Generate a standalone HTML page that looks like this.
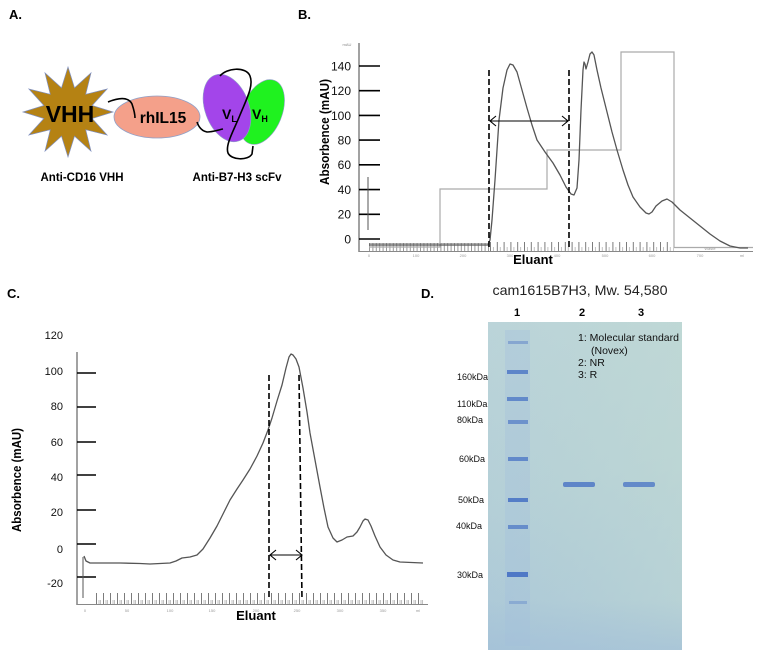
<!DOCTYPE html>
<html><head><meta charset="utf-8"><style>
html,body{margin:0;padding:0;background:#fff;}
svg{display:block;}
text{font-family:"Liberation Sans",sans-serif;}
</style></head><body>
<svg width="763" height="657" viewBox="0 0 763 657" xmlns="http://www.w3.org/2000/svg">
<defs>
<pattern id="pb1" x="369" y="243" width="3.4" height="9" patternUnits="userSpaceOnUse">
<line x1="0.5" y1="0" x2="0.5" y2="9" stroke="#555" stroke-width="0.6"/>
</pattern>
<pattern id="pb2" x="490" y="242" width="6.8" height="9" patternUnits="userSpaceOnUse">
<line x1="0.5" y1="0" x2="0.5" y2="9" stroke="#444" stroke-width="0.7"/>
<line x1="3.5" y1="5" x2="3.5" y2="9" stroke="#999" stroke-width="0.6"/>
</pattern>
<pattern id="pc" x="96" y="593" width="7" height="11" patternUnits="userSpaceOnUse">
<line x1="0.5" y1="0" x2="0.5" y2="11" stroke="#444" stroke-width="0.7"/>
<line x1="3" y1="7" x2="3" y2="11" stroke="#999" stroke-width="0.6"/>
<line x1="4.5" y1="7" x2="4.5" y2="11" stroke="#999" stroke-width="0.6"/>
</pattern>
<linearGradient id="gel" x1="0" y1="0" x2="0.2" y2="1">
<stop offset="0" stop-color="#bbd4d9"/>
<stop offset="0.55" stop-color="#b4cfd7"/>
<stop offset="1" stop-color="#a9c6d8"/>
</linearGradient>
<linearGradient id="gelr" x1="0" y1="0" x2="1" y2="0">
<stop offset="0" stop-color="#c4dcd3" stop-opacity="0"/>
<stop offset="1" stop-color="#c4dcd3" stop-opacity="0.55"/>
</linearGradient>
<linearGradient id="gelb" x1="0" y1="0" x2="0" y2="1">
<stop offset="0" stop-color="#a4c1d8" stop-opacity="0"/>
<stop offset="1" stop-color="#a4c1d8" stop-opacity="0.7"/>
</linearGradient>
</defs>

<!-- Panel A -->
<text x="9" y="19" font-size="13" font-weight="bold">A.</text>
<polygon points="68,67 74.5,87.9 91,72.9 85.7,94.3 107.1,89 92.1,105.5 113,112 92.1,118.5 107.1,135 85.7,129.7 91,151.1 74.5,136.1 68,157 61.5,136.1 45,151.1 50.3,129.7 28.9,135 43.9,118.5 23,112 43.9,105.5 28.9,89 50.3,94.3 45,72.9 61.5,87.9" fill="#b58213" stroke="#7f8fbf" stroke-width="0.7"/>
<text x="70" y="122" font-size="23" font-weight="bold" text-anchor="middle">VHH</text>
<ellipse cx="157" cy="117" rx="43" ry="21" fill="#f4a08a" stroke="#8fa0c8" stroke-width="0.8"/>
<path d="M 108,102 C 118,98 128,96 132,104 C 134,110 135,114 135,118" fill="none" stroke="#000" stroke-width="1.6"/>
<text x="163" y="123" font-size="15.5" font-weight="bold" text-anchor="middle">rhIL15</text>
<ellipse cx="262" cy="112" rx="20" ry="34" transform="rotate(22 262 112)" fill="#1ff21f" stroke="#8fa0c8" stroke-width="0.6"/>
<ellipse cx="227" cy="108" rx="22" ry="35" transform="rotate(-20 227 108)" fill="#a345ea" stroke="#8fa0c8" stroke-width="0.6"/>
<path d="M 197,122 C 199,128 202,131 207,132 C 212,132 218,130 223,129" fill="none" stroke="#000" stroke-width="1.6"/>
<path d="M 220,76 C 226,68 246,66 250,76 C 254,86 246,100 240,115 C 234,130 225,145 228,153 C 231,160 248,161 252,154 L 253,146" fill="none" stroke="#000" stroke-width="1.6"/>
<text x="222" y="119" font-size="14" font-weight="bold">V<tspan font-size="9" dy="3">L</tspan></text>
<text x="252" y="119" font-size="14" font-weight="bold">V<tspan font-size="9" dy="3">H</tspan></text>
<text x="82" y="181" font-size="11.5" font-weight="bold" text-anchor="middle" textLength="83" lengthAdjust="spacingAndGlyphs">Anti-CD16 VHH</text>
<text x="237" y="181" font-size="11.5" font-weight="bold" text-anchor="middle" textLength="89" lengthAdjust="spacingAndGlyphs">Anti-B7-H3 scFv</text>

<!-- Panel B -->
<text x="298" y="19" font-size="13" font-weight="bold">B.</text>
<text x="347" y="46" font-size="4" fill="#888" text-anchor="middle">mAU</text>
<line x1="359" y1="43" x2="359" y2="252" stroke="#444" stroke-width="1"/>
<line x1="359" y1="251.5" x2="753" y2="251.5" stroke="#888" stroke-width="1"/>
<g stroke="#000" stroke-width="1.6">
<line x1="359" y1="66" x2="380" y2="66"/>
<line x1="359" y1="90.7" x2="380" y2="90.7"/>
<line x1="359" y1="115.4" x2="380" y2="115.4"/>
<line x1="359" y1="140.1" x2="380" y2="140.1"/>
<line x1="359" y1="164.8" x2="380" y2="164.8"/>
<line x1="359" y1="189.6" x2="380" y2="189.6"/>
<line x1="359" y1="214.3" x2="380" y2="214.3"/>
<line x1="359" y1="239" x2="380" y2="239"/>
</g>
<g font-size="12" text-anchor="end" fill="#111">
<text x="351" y="70.5">140</text>
<text x="351" y="95">120</text>
<text x="351" y="120">100</text>
<text x="351" y="144.5">80</text>
<text x="351" y="169">60</text>
<text x="351" y="194">40</text>
<text x="351" y="218.5">20</text>
<text x="351" y="243.5">0</text>
</g>
<text transform="translate(329 132) rotate(-90)" font-size="12.5" font-weight="bold" text-anchor="middle" textLength="106" lengthAdjust="spacingAndGlyphs">Absorbence (mAU)</text>
<rect x="369" y="243" width="120" height="8" fill="url(#pb1)"/>
<line x1="369" y1="243.5" x2="489" y2="243.5" stroke="#666" stroke-width="0.6"/>
<rect x="490" y="242" width="184" height="9" fill="url(#pb2)"/>
<g font-size="4" fill="#999" text-anchor="middle">
<text x="369" y="257">0</text><text x="416" y="257">100</text><text x="463" y="257">200</text><text x="510" y="257">300</text><text x="557" y="257">400</text><text x="605" y="257">500</text><text x="652" y="257">600</text><text x="700" y="257">700</text><text x="742" y="257">ml</text>
<text x="710" y="250">Waste</text>
</g>
<text x="533" y="264" font-size="13" font-weight="bold" text-anchor="middle">Eluant</text>
<path d="M369,247 H440 V189 H547 V150 H621 V52 H674 V247.5 H753" fill="none" stroke="#aaa" stroke-width="1.2"/>
<line x1="368" y1="177" x2="368" y2="230" stroke="#555" stroke-width="1"/>
<path d="M369,245 L488,245 L490,240 L492,220 L495,180 L499,120 L503,88 L507,70 L510,64 L513,65 L517,72 L522,90 L527,108 L532,125 L537,140 L545,152 L553,163 L560,175 L566,187 L571,194 L574,195 L577,188 L579,160 L581,110 L583,70 L584,62 L585,64 L586,69 L588,62 L590,54 L592,52 L594,55 L597,70 L601,88 L607,112 L612,132 L617,150 L623,170 L628,185 L633,197 L640,207 L646,213 L649,214 L652,212 L656,206 L662,201 L667,199 L672,202 L680,210 L690,218 L700,226 L710,234 L720,241 L730,246 L740,248 L748,248" fill="none" stroke="#555" stroke-width="1.3" stroke-linejoin="round"/>
<g stroke="#000" stroke-width="1.6" stroke-dasharray="6,3">
<line x1="489" y1="70" x2="489" y2="250"/>
<line x1="569" y1="70" x2="569" y2="250"/>
</g>
<g stroke="#000" stroke-width="1.1" fill="none">
<line x1="490" y1="121" x2="568" y2="121"/>
<path d="M496,116 L490,121 L496,126"/>
<path d="M562,116 L568,121 L562,126"/>
</g>

<!-- Panel C -->
<text x="7" y="298" font-size="13" font-weight="bold">C.</text>
<line x1="77" y1="352" x2="77" y2="605" stroke="#444" stroke-width="1"/>
<line x1="77" y1="604.5" x2="428" y2="604.5" stroke="#888" stroke-width="1"/>
<g stroke="#000" stroke-width="1.6">
<line x1="77" y1="373" x2="96" y2="373"/>
<line x1="77" y1="407" x2="96" y2="407"/>
<line x1="77" y1="442" x2="96" y2="442"/>
<line x1="77" y1="475" x2="96" y2="475"/>
<line x1="77" y1="510" x2="96" y2="510"/>
<line x1="77" y1="544" x2="96" y2="544"/>
<line x1="77" y1="577" x2="96" y2="577"/>
</g>
<g font-size="11" text-anchor="end" fill="#111">
<text x="63" y="339">120</text>
<text x="63" y="375">100</text>
<text x="63" y="410">80</text>
<text x="63" y="446">60</text>
<text x="63" y="481">40</text>
<text x="63" y="516">20</text>
<text x="63" y="553">0</text>
<text x="63" y="587">-20</text>
</g>
<text transform="translate(21 480) rotate(-90)" font-size="12.5" font-weight="bold" text-anchor="middle" textLength="104" lengthAdjust="spacingAndGlyphs">Absorbence (mAU)</text>
<rect x="96" y="593" width="327" height="11" fill="url(#pc)"/>
<g font-size="4" fill="#999" text-anchor="middle">
<text x="85" y="612">0</text><text x="127" y="612">50</text><text x="170" y="612">100</text><text x="212" y="612">150</text><text x="256" y="612">200</text><text x="297" y="612">250</text><text x="340" y="612">300</text><text x="383" y="612">350</text><text x="418" y="612">ml</text>
</g>
<text x="256" y="620" font-size="13" font-weight="bold" text-anchor="middle">Eluant</text>
<line x1="83" y1="557" x2="83" y2="598" stroke="#555" stroke-width="1"/>
<path d="M84,556 L86,561 L90,563 L120,563 L140,563.5 L150,564 L160,563.5 L170,563 L176,561 L182,558 L190,557 L197,555 L203,549 L210,538 L217,526 L224,512 L230,500 L237,489 L243,480 L250,469 L257,456 L263,443 L268,430 L272,418 L277,401 L282,385 L286,368 L289,357 L291,354 L293,355 L296,359 L299,367 L303,388 L307,412 L310,433 L315,460 L320,487 L324,508 L328,527 L333,538 L337,542 L342,540 L347,537 L353,536 L357,532 L360,527 L363,521 L365,519 L368,520 L371,526 L375,536 L380,547 L386,555 L393,560 L400,562 L423,563" fill="none" stroke="#555" stroke-width="1.3" stroke-linejoin="round"/>
<g stroke="#000" stroke-width="1.6" stroke-dasharray="6,3">
<line x1="269" y1="375" x2="269" y2="600"/>
<line x1="299" y1="375" x2="302" y2="600"/>
</g>
<g stroke="#000" stroke-width="1.1" fill="none">
<line x1="270" y1="555" x2="302" y2="555"/>
<path d="M276,550 L270,555 L276,560"/>
<path d="M296,550 L302,555 L296,560"/>
</g>

<!-- Panel D -->
<text x="421" y="298" font-size="13" font-weight="bold">D.</text>
<text x="580" y="295" font-size="14" text-anchor="middle" fill="#222" textLength="175" lengthAdjust="spacingAndGlyphs">cam1615B7H3, Mw. 54,580</text>
<g font-size="11" font-weight="bold" text-anchor="middle">
<text x="517" y="316">1</text>
<text x="582" y="316">2</text>
<text x="641" y="316">3</text>
</g>
<rect x="488" y="322" width="194" height="328" fill="url(#gel)"/>
<rect x="488" y="322" width="194" height="328" fill="url(#gelr)"/>
<rect x="488" y="600" width="194" height="50" fill="url(#gelb)"/>
<rect x="505" y="330" width="25" height="316" fill="#a3bfdc" opacity="0.35"/>
<g fill="#4f78c6">
<rect x="508" y="341" width="20" height="3" opacity="0.45"/>
<rect x="507" y="370" width="21" height="4" opacity="0.85"/>
<rect x="507" y="397" width="21" height="4" opacity="0.8"/>
<rect x="508" y="420" width="20" height="4" opacity="0.7"/>
<rect x="508" y="457" width="20" height="4" opacity="0.8"/>
<rect x="508" y="498" width="20" height="4" opacity="0.95"/>
<rect x="508" y="525" width="20" height="4" opacity="0.75"/>
<rect x="507" y="572" width="21" height="5"/>
<rect x="509" y="601" width="18" height="3" opacity="0.35"/>
<rect x="563" y="482" width="32" height="5" rx="2" opacity="0.85"/>
<rect x="623" y="482" width="32" height="5" rx="2" opacity="0.8"/>
</g>
<g font-size="10.5" fill="#111">
<text x="578" y="341" textLength="101" lengthAdjust="spacingAndGlyphs">1: Molecular standard</text>
<text x="591" y="354">(Novex)</text>
<text x="578" y="366">2: NR</text>
<text x="578" y="378">3: R</text>
</g>
<g font-size="9" fill="#111">
<text x="457" y="380">160kDa</text>
<text x="457" y="407">110kDa</text>
<text x="457" y="423">80kDa</text>
<text x="459" y="462">60kDa</text>
<text x="458" y="503">50kDa</text>
<text x="456" y="529">40kDa</text>
<text x="457" y="578">30kDa</text>
</g>
</svg>
</body></html>
